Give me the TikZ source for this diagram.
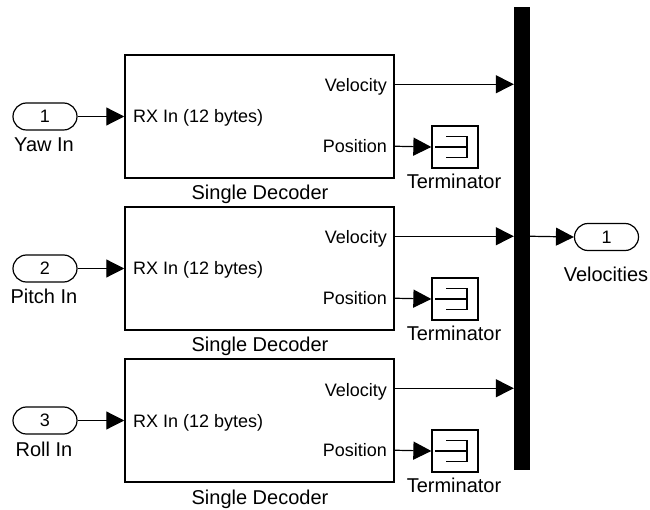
\documentclass[tikz,border=0pt]{standalone}
\usepackage{fontspec}
\setmainfont{Liberation Sans}
\usetikzlibrary{arrows.meta,shapes.misc}
\begin{document}
\begin{tikzpicture}[x=1pt,y=-1pt,
  font=\fontsize{18}{20}\selectfont,
  inport/.style={draw, rounded rectangle, line width=1.2pt, minimum width=64pt, minimum height=27pt, inner sep=0pt},
  decoder/.style={draw, line width=1.5pt, minimum width=269pt, minimum height=123pt, inner sep=0pt},
  termbox/.style={draw, line width=1.3pt, minimum width=46pt, minimum height=42pt, inner sep=0pt},
  muxbar/.style={draw, fill=black, minimum width=15pt, minimum height=462pt, inner sep=0pt},
  sig/.style={line width=1.2pt, arrows={-Triangle[length=18pt,width=18pt]}},
  sym/.style={line width=1.2pt},
  lbl/.style={inner sep=0pt},
  blbl/.style={inner sep=0pt, font=\fontsize{20}{22}\selectfont}]
\useasboundingbox (0,0) rectangle (650,510);

\node[muxbar] (bar) at (521.5,238) {};

\foreach \i/\cy/\nm in {1/116.5/Yaw In,2/268.5/Pitch In,3/420.5/Roll In}{
  \node[inport] (in\i) at (45,\cy) {\i};
  \node[blbl, anchor=base] (inl\i) at (44,\cy+35.5) {\nm};
  \node[decoder] (d\i) at (259.5,\cy) {};
  \node[lbl, anchor=base west] (rx\i) at (133,\cy+6.5) {RX In (12 bytes)};
  \node[lbl, anchor=base east] (vl\i) at (387,\cy-24.5) {Velocity};
  \node[lbl, anchor=base east] (pl\i) at (387,\cy+36) {Position};
  \node[blbl, anchor=base] (dl\i) at (260,\cy+83.5) {Single Decoder};
  \node[termbox] (t\i) at (455,\cy+30.5) {};
  \node[blbl, anchor=base] (tl\i) at (454,\cy+72) {Terminator};
  \coordinate (v\i) at ([yshift=-30pt]d\i.north east);
  \coordinate (p\i) at ([yshift=-92pt]d\i.north east);
  \draw[sig] (in\i.east) -- (d\i.west);
  \draw[sig] (v\i) -- (v\i -| bar.west);
  \draw[sig] (p\i) -- (t\i.west);
  \draw[sym] ([xshift=-20pt]t\i.center) -- ([xshift=12pt]t\i.center);
  \draw[sym] ([xshift=-9pt,yshift=10.5pt]t\i.center) -- ([xshift=12pt,yshift=10.5pt]t\i.center)
    -- ([xshift=12pt,yshift=-10.5pt]t\i.center) -- ([xshift=-9pt,yshift=-10.5pt]t\i.center);
}

\node[inport] (out1) at (606.5,237) {1};
\node[blbl, anchor=base] (outl) at (606,282) {Velocities};
\draw[sig] (v2 -| bar.east) -- (out1.west);
\end{tikzpicture}
\end{document}
